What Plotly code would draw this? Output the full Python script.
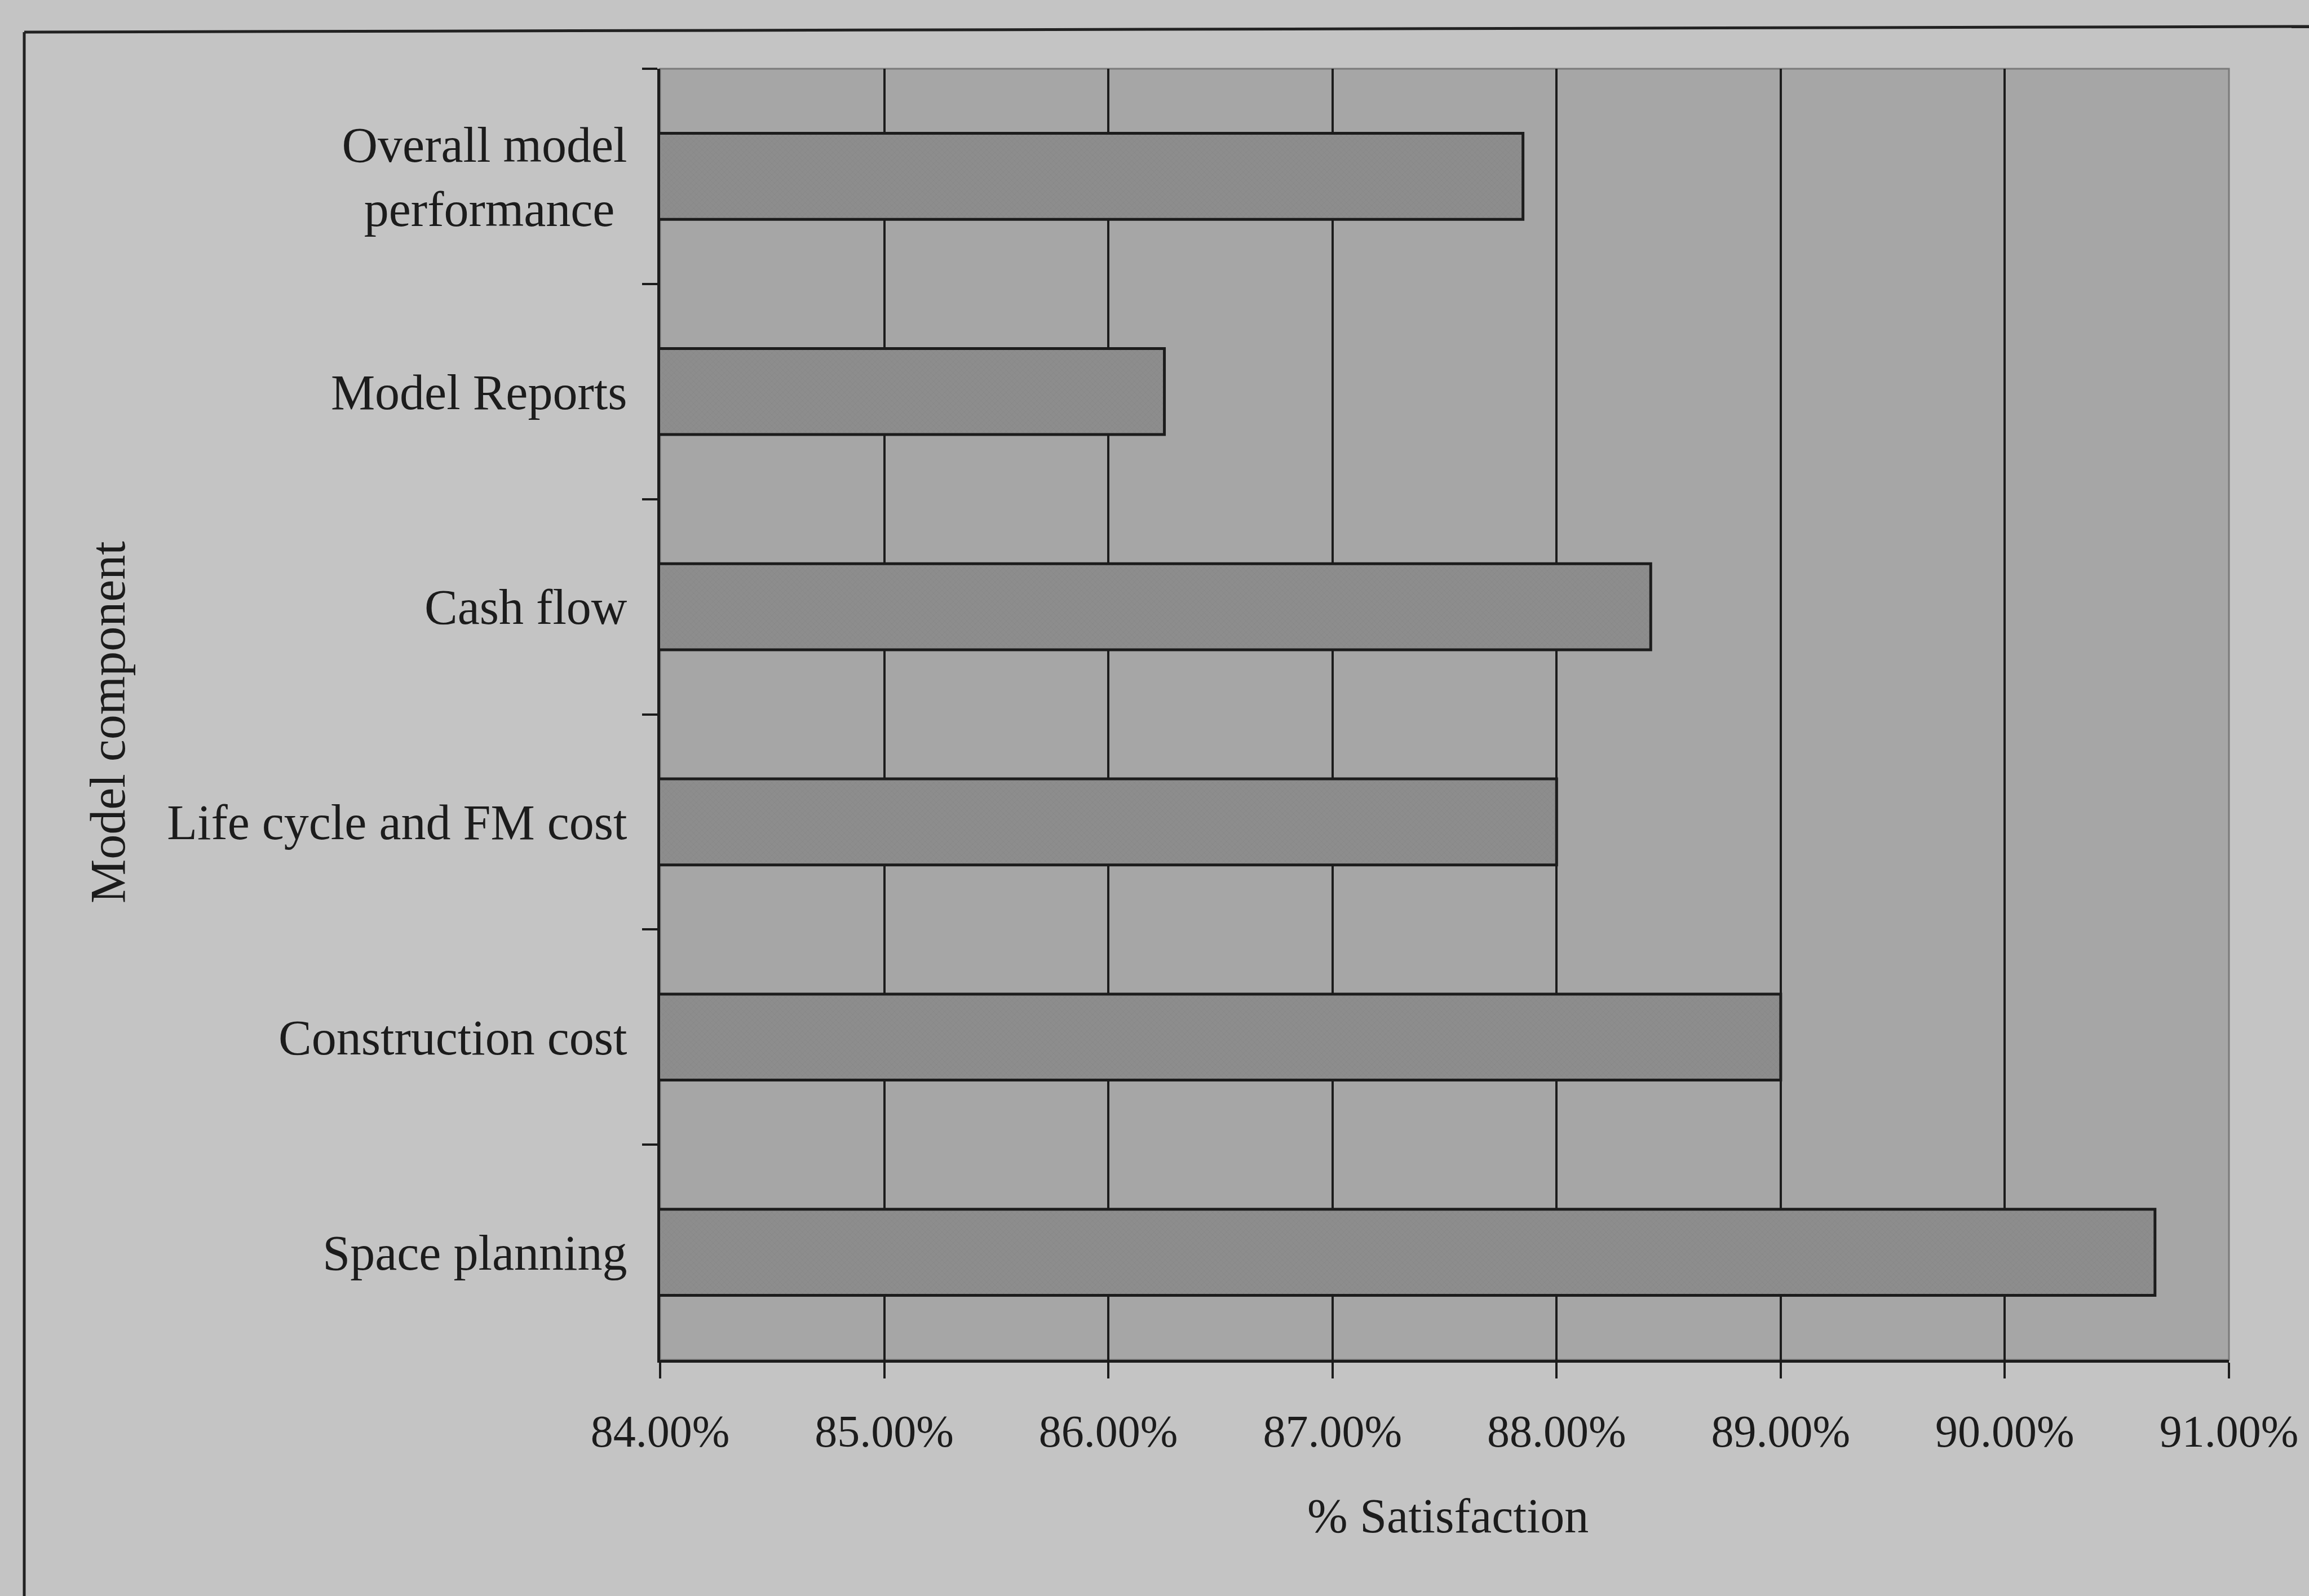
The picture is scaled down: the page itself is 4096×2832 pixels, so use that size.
import plotly.graph_objects as go

# Survey results: satisfaction by model component (top to bottom)
components = [
    "Overall model<br>performance\u00a0",
    "Model Reports",
    "Cash flow",
    "Life cycle and FM cost",
    "Construction cost",
    "Space planning",
]
satisfaction = [0.8785, 0.8625, 0.8842, 0.8800, 0.8900, 0.9067]

x_ticks = [0.84, 0.85, 0.86, 0.87, 0.88, 0.89, 0.90, 0.91]

W, H = 4096, 2832
L, R, T, B = 1171, 3954, 122, 2413

FONT = "Liberation Serif"
INK = "#1c1c1c"
PAGE = "#c4c4c4"
PLOT = "#a6a6a6"
BAR = "#8d8d8d"


def px(xp):
    return (xp - L) / (R - L)


def py(yp):
    return 1 - (yp - T) / (B - T)


fig = go.Figure()
fig.add_trace(
    go.Bar(
        x=satisfaction,
        y=components,
        orientation="h",
        marker=dict(
            color=BAR,
            line=dict(color=INK, width=5),
            pattern=dict(shape="x", size=7, solidity=0.15,
                         fgcolor="#7a7a7a", bgcolor=BAR),
        ),
        showlegend=False,
    )
)

fig.update_layout(
    width=W,
    height=H,
    margin=dict(l=L, r=W - R, t=T, b=H - B, pad=0),
    paper_bgcolor=PAGE,
    plot_bgcolor=PLOT,
    bargap=0.6,
    font=dict(family=FONT, size=86, color=INK),
    xaxis=dict(
        range=[0.84, 0.91],
        tickvals=x_ticks,
        tickformat=".2%",
        tickfont=dict(size=80, family=FONT, color=INK),
        showgrid=True,
        gridcolor=INK,
        gridwidth=4,
        showline=True,
        linecolor=INK,
        linewidth=5,
        ticks="outside",
        ticklen=28,
        tickwidth=4,
        tickcolor=INK,
        ticklabelstandoff=25,
        zeroline=False,
    ),
    yaxis=dict(
        type="category",
        categoryorder="array",
        categoryarray=components,
        autorange="reversed",
        tickfont=dict(size=88, family=FONT, color=INK),
        showgrid=False,
        showline=True,
        linecolor=INK,
        linewidth=5,
        ticks="outside",
        tickson="boundaries",
        ticklen=27,
        tickwidth=4,
        tickcolor=INK,
        ticklabelstandoff=36,
        zeroline=False,
    ),
    shapes=[
        # thin grey edge of the plot area
        dict(type="rect", xref="paper", yref="paper", x0=0, x1=1, y0=0, y1=1,
             line=dict(color="#7a7a7a", width=3), layer="below"),
        # outer frame (top and left edges)
        dict(type="line", xref="paper", yref="paper",
             x0=px(43), y0=py(57), x1=px(W + 10), y1=py(47),
             line=dict(color="#222222", width=5)),
        dict(type="line", xref="paper", yref="paper",
             x0=px(43), y0=py(57), x1=px(43), y1=py(H + 10),
             line=dict(color="#222222", width=5)),
    ],
    annotations=[
        dict(text="% Satisfaction", xref="paper", yref="paper",
             x=px(2568), y=py(2690), showarrow=False,
             xanchor="center", yanchor="middle",
             font=dict(size=86, family=FONT, color=INK)),
        dict(text="Model component", xref="paper", yref="paper",
             x=px(191), y=py(1282), showarrow=False, textangle=-90,
             xanchor="center", yanchor="middle",
             font=dict(size=88, family=FONT, color=INK)),
    ],
)

fig.write_html("out.html")
